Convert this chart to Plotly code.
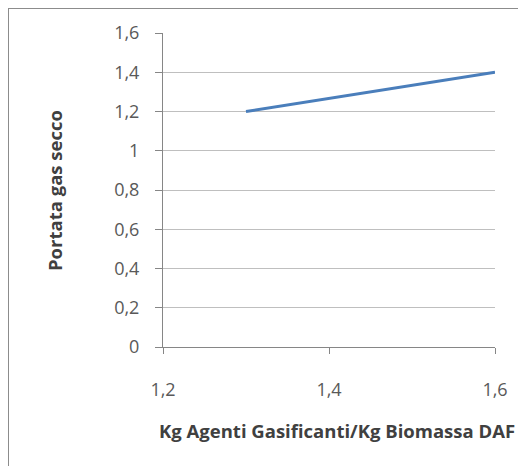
import plotly.graph_objects as go

x_vals = [1.3, 1.6]
y_vals = [1.2, 1.4]

# page body has an 8px default margin, so work in figure coordinates = page - 8
OFF = 8
W, H = 526 - OFF, 466 - OFF
L, T = 163 - OFF, 33 - OFF
pw, ph = 332, 314
R, B = W - L - pw, H - T - ph

def px_x(x):
    return (x - OFF - L) / pw

def px_y(y):
    return 1 - (y - OFF - T) / ph

font = "Open Sans"

fig = go.Figure()
fig.add_trace(go.Scatter(x=x_vals, y=y_vals, mode="lines",
                         line=dict(color="#4A7EBB", width=3), showlegend=False))

fig.update_layout(
    width=W, height=H,
    margin=dict(l=L, r=R, t=T, b=B),
    paper_bgcolor="white", plot_bgcolor="white",
    separators=",.",
    font=dict(family=font, size=18, color="#595959"),
    xaxis=dict(range=[1.2, 1.6], dtick=0.2, tick0=1.2, showgrid=False, zeroline=False,
               showline=True, linecolor="#868686", linewidth=1,
               ticks="outside", ticklen=6, tickcolor="#868686",
               tickfont=dict(size=18, color="#595959"), ticklabelstandoff=20),
    yaxis=dict(range=[0, 1.6], dtick=0.2, showgrid=True, gridcolor="#BFBFBF", gridwidth=1,
               zeroline=False, showline=True, linecolor="#868686", linewidth=1,
               ticks="outside", ticklen=7, tickcolor="#868686",
               tickfont=dict(size=18, color="#595959"), ticklabelstandoff=12),
    shapes=[dict(type="rect", xref="paper", yref="paper",
                 x0=px_x(8), x1=px_x(560), y0=px_y(500), y1=px_y(8),
                 line=dict(color="#8C8C8C", width=2), fillcolor="rgba(0,0,0,0)", layer="below")],
    annotations=[
        dict(text="<b>Kg Agenti Gasificanti/Kg Biomassa DAF</b>", xref="paper", yref="paper",
             x=px_x(337), y=px_y(430), xanchor="center", yanchor="middle", showarrow=False,
             font=dict(family=font, size=18.5, color="#404040")),
        dict(text="<b>Portata gas secco</b>", xref="paper", yref="paper",
             x=px_x(54), y=px_y(191), xanchor="center", yanchor="middle", showarrow=False,
             textangle=-90, font=dict(family=font, size=18.5, color="#404040")),
    ],
)

fig.write_html("out.html")
